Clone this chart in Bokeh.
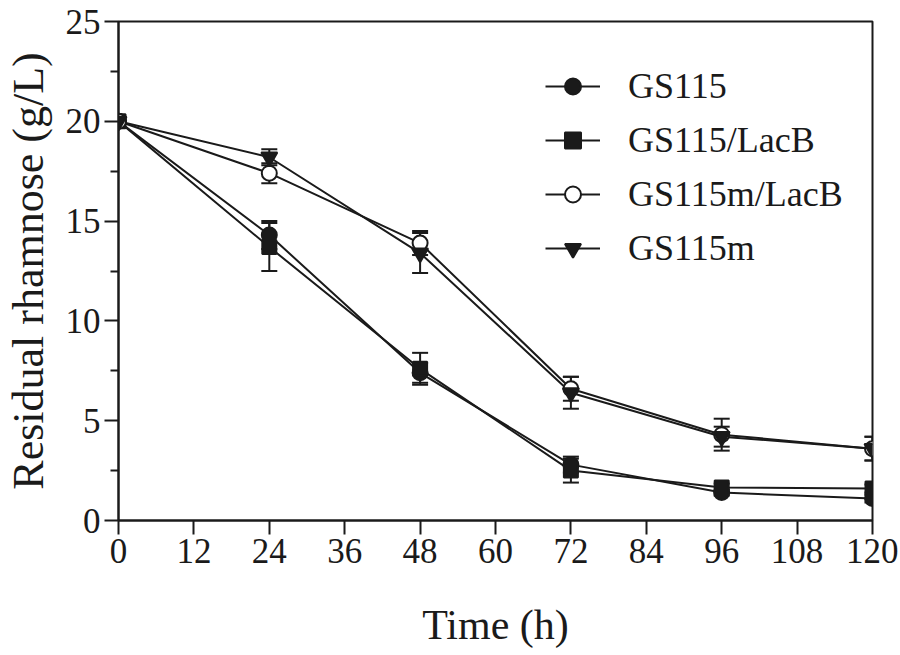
from bokeh.plotting import figure
from bokeh.models import (ColumnDataSource, Range1d, FixedTicker, Whisker, TeeHead,
                          Legend, LegendItem)
from bokeh.embed import file_html
from bokeh.resources import INLINE

# ---- data ----
time_h = [0, 24, 48, 72, 96, 120]

gs115 = [20.0, 14.3, 7.4, 2.8, 1.4, 1.1]
gs115_err = [0.0, 0.7, 0.5, 0.4, 0.15, 0.2]

gs115_lacb = [20.0, 13.7, 7.6, 2.5, 1.65, 1.6]
gs115_lacb_err = [0.0, 1.2, 0.8, 0.6, 0.2, 0.2]

gs115m_lacb = [20.0, 17.4, 13.9, 6.6, 4.3, 3.6]
gs115m_lacb_err = [0.0, 0.5, 0.6, 0.6, 0.8, 0.6]

gs115m = [20.0, 18.2, 13.4, 6.4, 4.2, 3.6]
gs115m_err = [0.0, 0.4, 1.0, 0.8, 0.5, 0.6]

series_names = ["GS115", "GS115/LacB", "GS115m/LacB", "GS115m"]
x_ticks = [0, 12, 24, 36, 48, 60, 72, 84, 96, 108, 120]
y_ticks = [0, 5, 10, 15, 20, 25]
y_minor = [2.5, 7.5, 12.5, 17.5, 22.5]

FONT = "Liberation Serif"
INK = "#1a1a1a"

p = figure(width=898, height=653, output_backend="svg", toolbar_location=None,
           x_range=Range1d(0, 120), y_range=Range1d(0, 25),
           min_border_left=118, min_border_right=26, min_border_top=21,
           min_border_bottom=133)

p.background_fill_color = "white"
p.border_fill_color = "white"
p.grid.visible = False
p.outline_line_color = INK
p.outline_line_width = 2

# axes
p.xaxis.ticker = FixedTicker(ticks=x_ticks)
p.yaxis.ticker = FixedTicker(ticks=y_ticks, minor_ticks=y_minor)
for ax in (p.xaxis[0], p.yaxis[0]):
    ax.axis_line_color = INK
    ax.axis_line_width = 2
    ax.major_tick_line_color = INK
    ax.major_tick_line_width = 2
    ax.minor_tick_line_color = INK
    ax.minor_tick_line_width = 2
    ax.major_tick_in = 0
    ax.major_tick_out = 14
    ax.minor_tick_in = 0
    ax.minor_tick_out = 8
    ax.major_label_text_font = FONT
    ax.major_label_text_font_size = "35px"
    ax.major_label_text_color = INK
    ax.axis_label_text_font = FONT
    ax.axis_label_text_font_style = "normal"
    ax.axis_label_text_color = INK
p.xaxis.minor_tick_line_color = None
p.xaxis.major_label_standoff = 4
p.yaxis.major_label_standoff = 4
p.xaxis.axis_label = "Time (h)"
p.yaxis.axis_label = "Residual rhamnose (g/L)"
p.xaxis.axis_label_text_font_size = "42px"
p.yaxis.axis_label_text_font_size = "44px"
p.xaxis.axis_label_standoff = 36
p.yaxis.axis_label_standoff = 10

values = [gs115, gs115_lacb, gs115m_lacb, gs115m]
errors = [gs115_err, gs115_lacb_err, gs115m_lacb_err, gs115m_err]
markers = ["circle", "square", "circle", "inverted_triangle"]
fills = [INK, INK, "white", INK]
sizes = [15, 14, 15, 16]

items = []
line_rs = []
for name, vals, errs in zip(series_names, values, errors):
    src = ColumnDataSource(dict(x=time_h, y=vals,
                                upper=[v + e for v, e in zip(vals, errs)],
                                lower=[v - e for v, e in zip(vals, errs)]))
    lr = p.line("x", "y", source=src, line_color=INK, line_width=2)
    line_rs.append((name, src, lr))

for i, (name, src, lr) in enumerate(line_rs):
    w = Whisker(base="x", upper="upper", lower="lower", source=src,
                line_color=INK, line_width=2,
                upper_head=TeeHead(size=16, line_color=INK, line_width=2),
                lower_head=TeeHead(size=16, line_color=INK, line_width=2))
    p.add_layout(w)

for i, (name, src, lr) in enumerate(line_rs):
    sr = p.scatter("x", "y", source=src, marker=markers[i], size=sizes[i],
                   fill_color=fills[i], line_color=INK, line_width=2)
    items.append(LegendItem(label=name, renderers=[lr, sr]))

legend = Legend(items=items, location=(427, 251), orientation="vertical",
                label_text_font=FONT, label_text_font_size="36px",
                label_text_color=INK, glyph_width=55, glyph_height=40,
                label_height=40, spacing=12, padding=0, margin=0,
                label_standoff=28, background_fill_alpha=0,
                border_line_alpha=0)
p.add_layout(legend)

open("out.html", "w").write(file_html(p, INLINE))
